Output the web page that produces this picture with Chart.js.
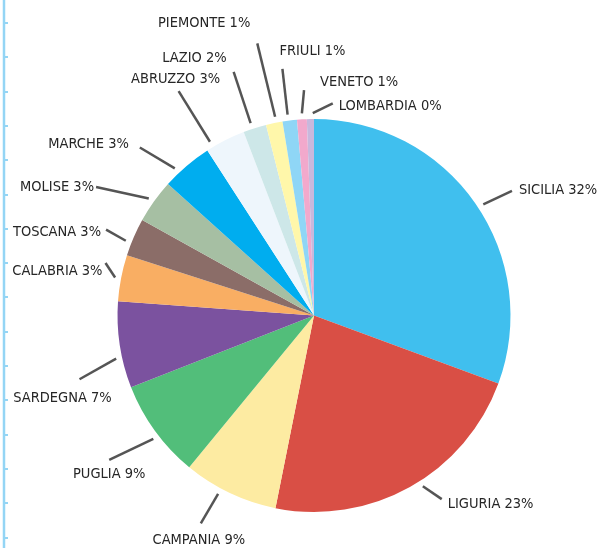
<!DOCTYPE html>
<html><head><meta charset="utf-8">
<script src="https://cdn.jsdelivr.net/npm/chart.js@4"></script>
<style>html,body{margin:0;padding:0;background:#fff;overflow:hidden}#wrap{position:relative;width:601px;height:548px}</style>
</head><body><div id="wrap"><canvas id="c" width="601" height="548"></canvas></div>
<script>
// ---- data ----
const regions = ['SICILIA','LIGURIA','CAMPANIA','PUGLIA','SARDEGNA','CALABRIA','TOSCANA','MOLISE','MARCHE','ABRUZZO','LAZIO','PIEMONTE','FRIULI','VENETO','LOMBARDIA'];
const shares = [30.6, 22.5, 7.8, 8.1, 7.1, 3.8, 3.1, 3.6, 4.2, 3.3, 1.9, 1.36, 1.18, 0.8, 0.58];
const percentLabels = ['32%','23%','9%','9%','7%','3%','3%','3%','3%','3%','2%','1%','1%','1%','0%'];

// ---- styles / layout ----
const sliceColors = ['#40bfee','#d94f45','#fdeba2','#52be7a','#7b529f','#f9ae63','#8b6d68','#a6bfa3','#00adef','#eef6fc','#cde7e8','#fff7aa','#8fd6f6','#f2a9cc','#c8b8dc'];
const leaderLength = [37.4, 27.2, 40.2, 54.1, 46.5, 18.5, 28.5, 56.5, 45.5, 65.5, 60.1, 81.5, 52.1, 29.2, 16.5];
const leaderStartTurn = [1.6, -3.3, 2.9, -1.5, -3.7, -0.2, -1.8, -0.2, -3, -4, -0.7, 0.6, -0.4, 0.1, 0.7];
const leaderEndTurn = [2.7, -5.6, 3.2, 0.8, -6.6, 3.1, -1, -5, -5.6, -4.2, -0.7, -0.1, -0.2, 1, 6.1];
const labelAlign = ['left','left','center','center','center','right','right','right','right','center','right','right','left','left','left'];
const labelShift = [[7,-1],[6,5],[-2,17],[0,14],[-17,19],[-3,8],[-5,3],[-2,0],[-11,-3],[-3,-12],[-7,-14],[-7,-20],[-3,-18],[16,-8],[6,3]];

const leftRule = {
  id: 'leftRule',
  beforeDraw(chart) {
    const ctx = chart.ctx;
    ctx.save();
    ctx.strokeStyle = '#94d5f5';
    ctx.lineWidth = 2.5;
    ctx.beginPath();
    ctx.moveTo(4, 0); ctx.lineTo(4, chart.height);
    ctx.stroke();
    ctx.lineWidth = 2;
    ctx.beginPath();
    for (let yy = 23; yy < chart.height; yy += 34.3) {
      ctx.moveTo(4, Math.round(yy)); ctx.lineTo(8, Math.round(yy));
    }
    ctx.stroke();
    ctx.restore();
  }
};

const pieLabels = {
  id: 'pieLabels',
  afterDatasetsDraw(chart) {
    const ctx = chart.ctx;
    const meta = chart.getDatasetMeta(0);
    const deg = Math.PI / 180;
    ctx.save();
    ctx.font = '14.5px "DejaVu Sans Condensed", "DejaVu Sans", sans-serif';
    ctx.fillStyle = '#262626';
    ctx.strokeStyle = '#555555';
    ctx.lineWidth = 2.5;
    ctx.textBaseline = 'middle';
    meta.data.forEach((arc, i) => {
      const p = arc.getProps(['x','y','startAngle','endAngle','outerRadius'], true);
      const mid = (p.startAngle + p.endAngle) / 2;
      const a0 = mid + leaderStartTurn[i] * deg;
      const a1 = mid + leaderEndTurn[i] * deg;
      const r0 = p.outerRadius + 6;
      const r1 = p.outerRadius + leaderLength[i];
      const sx = p.x + r0 * Math.cos(a0), sy = p.y + r0 * Math.sin(a0);
      const ex = p.x + r1 * Math.cos(a1), ey = p.y + r1 * Math.sin(a1);
      ctx.beginPath(); ctx.moveTo(sx, sy); ctx.lineTo(ex, ey); ctx.stroke();
      ctx.textAlign = labelAlign[i];
      ctx.fillText(regions[i] + ' ' + percentLabels[i], ex + labelShift[i][0], ey + labelShift[i][1]);
    });
    ctx.restore();
  }
};

new Chart(document.getElementById('c'), {
  type: 'pie',
  data: {
    labels: regions,
    datasets: [{ data: shares, backgroundColor: sliceColors, borderWidth: 0, hoverOffset: 0, offset: 0 }]
  },
  options: {
    responsive: false,
    animation: false,
    events: [],
    layout: { padding: { left: 117.5, right: 90.5, top: 119, bottom: 36 } },
    plugins: { legend: { display: false }, tooltip: { enabled: false } }
  },
  plugins: [leftRule, pieLabels]
});
</script></body></html>
